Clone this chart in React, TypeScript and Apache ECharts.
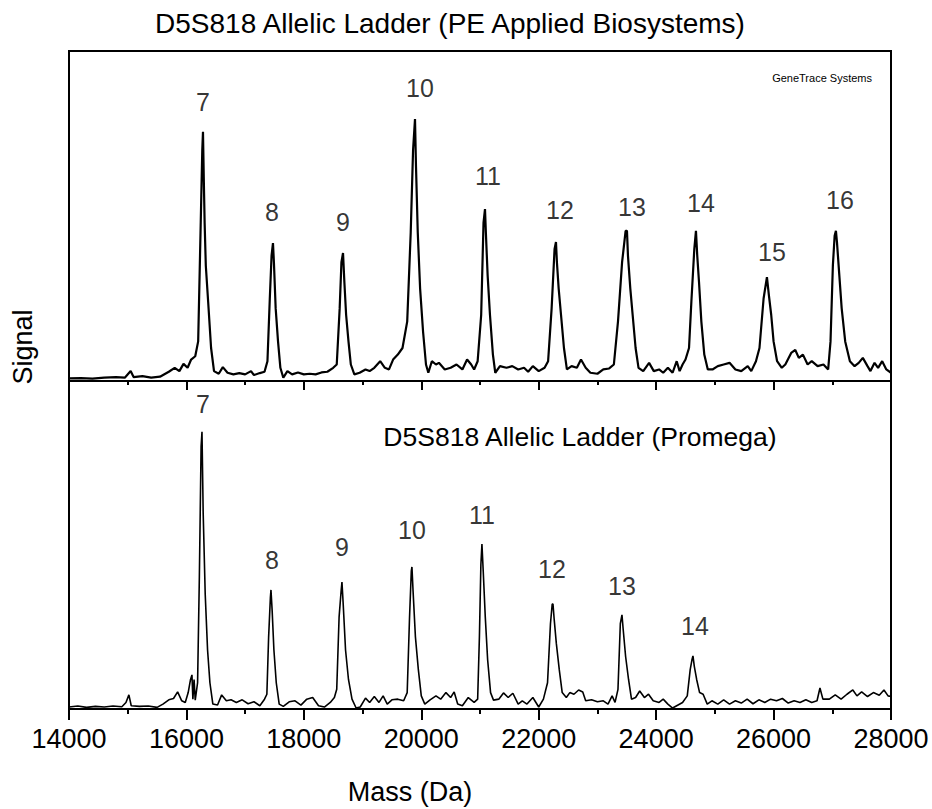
import React, { useEffect, useRef } from "react";
import * as echarts from "echarts";

// Upper trace: PE Applied Biosystems ladder [mass (Da), signal]
const traceTop: [number, number][] = [
  [14000, 0.8], [14200, 0.9], [14400, 0.7], [14600, 1.0], [14800, 1.2], [14950, 1.0], [15050, 3.0], [15100, 1.2],
  [15250, 1.5], [15400, 1.0], [15550, 1.3], [15700, 2.8], [15800, 4.0], [15880, 3.0], [15950, 5.2], [16020, 4.0],
  [16080, 6.5], [16150, 7.5], [16200, 12], [16240, 45], [16270, 70], [16282, 75.5], [16295, 62], [16310, 48],
  [16330, 35], [16370, 24], [16420, 10], [16470, 3.0], [16550, 2.2], [16620, 4.2], [16700, 2.5], [16800, 2.0],
  [16900, 2.4], [17000, 2.0], [17100, 3.0], [17150, 1.8], [17250, 2.4], [17330, 2.8], [17380, 6], [17420, 25],
  [17450, 38], [17474, 41.8], [17490, 36], [17520, 22], [17560, 12], [17600, 4], [17650, 1.0], [17720, 3.0],
  [17800, 2.0], [17900, 2.6], [18000, 2.0], [18100, 2.2], [18200, 2.0], [18300, 2.6], [18400, 2.8], [18500, 4.0],
  [18560, 5], [18610, 22], [18640, 36], [18667, 38.8], [18690, 30], [18720, 20], [18760, 12], [18800, 5],
  [18860, 2.0], [18950, 2.5], [19050, 3.5], [19120, 3.0], [19200, 4.0], [19300, 6.0], [19380, 4.0], [19450, 3.5],
  [19520, 6.5], [19600, 8.0], [19680, 10], [19760, 18], [19820, 45], [19860, 70], [19893, 79.4], [19910, 65],
  [19940, 45], [19980, 28], [20030, 15], [20080, 5], [20120, 2.5], [20180, 6], [20250, 5], [20300, 5.5],
  [20400, 3.5], [20500, 4], [20600, 5], [20700, 3.5], [20780, 6.5], [20850, 5], [20900, 3.5], [20960, 6],
  [21020, 20], [21060, 48], [21085, 52.1], [21100, 45], [21130, 32], [21170, 20], [21220, 8], [21260, 2.5],
  [21340, 4.5], [21450, 4.0], [21550, 4.5], [21650, 3.5], [21750, 4], [21820, 2.8], [21900, 4.5], [22000, 3],
  [22100, 4], [22160, 6], [22220, 22], [22270, 40], [22294, 42.1], [22310, 36], [22340, 28], [22380, 20],
  [22430, 10], [22480, 3.5], [22560, 4.5], [22650, 4.0], [22720, 6.5], [22800, 4], [22880, 2.5], [23000, 2.2],
  [23100, 3.5], [23200, 3.8], [23280, 5], [23350, 18], [23420, 36], [23480, 45.5], [23503, 45.5], [23520, 38],
  [23560, 28], [23600, 20], [23650, 10], [23700, 4], [23780, 3], [23880, 5.5], [23960, 3], [24050, 3.5],
  [24120, 2.5], [24200, 4.0], [24280, 2.5], [24350, 6], [24400, 3], [24450, 5], [24500, 6.5], [24560, 10],
  [24600, 24], [24650, 40], [24678, 45.5], [24700, 38], [24730, 30], [24770, 18], [24820, 8], [24880, 3.5],
  [24960, 3.5], [25050, 4.5], [25150, 5], [25250, 5.5], [25350, 3.5], [25450, 3], [25560, 4.5], [25620, 3],
  [25700, 6], [25760, 10], [25830, 25], [25887, 31.5], [25920, 26], [25960, 20], [26000, 12], [26060, 6],
  [26140, 4], [26200, 5], [26300, 8.5], [26370, 9.4], [26430, 7], [26500, 8], [26580, 5], [26650, 6],
  [26750, 4.5], [26850, 5], [26930, 3.5], [26970, 12], [27010, 35], [27040, 44], [27062, 45.5], [27080, 42],
  [27120, 32], [27160, 22], [27220, 12], [27300, 6], [27380, 4.5], [27450, 5.5], [27520, 7], [27600, 4.5],
  [27650, 3], [27720, 5.5], [27780, 4], [27850, 6.0], [27920, 3.5], [28000, 2.5],
];

// Lower trace: Promega ladder [mass (Da), signal]
const traceBottom: [number, number][] = [
  [14000, 0.6], [14150, 0.9], [14300, 0.5], [14450, 0.8], [14600, 0.6], [14750, 0.9], [14900, 0.7], [14970, 2.0],
  [15020, 4.3], [15060, 1.0], [15200, 0.8], [15350, 0.9], [15500, 0.5], [15600, 1.5], [15700, 2.8], [15780, 3.2],
  [15850, 5.2], [15920, 2.5], [15980, 2.0], [16030, 5], [16070, 9], [16094, 10.4], [16110, 3], [16130, 9],
  [16150, 2.7], [16190, 8], [16220, 40], [16250, 80], [16265, 84.5], [16285, 60], [16320, 35], [16360, 18],
  [16400, 8], [16450, 1.5], [16530, 1.2], [16600, 4.3], [16680, 2.5], [16760, 2.8], [16850, 2.0], [16950, 2.8],
  [17050, 1.6], [17150, 2.2], [17250, 1.0], [17330, 3.0], [17370, 4.5], [17400, 22], [17430, 34], [17440, 36.3],
  [17460, 30], [17490, 18], [17530, 8], [17580, 1.5], [17650, 0.8], [17750, 2.2], [17850, 2.5], [17950, 1.2],
  [18050, 3.0], [18150, 3.5], [18250, 1.0], [18350, 0.6], [18450, 2.0], [18520, 3.5], [18560, 6], [18600, 28],
  [18635, 36], [18649, 38.7], [18670, 32], [18710, 18], [18760, 9], [18820, 3], [18890, 0.3], [18960, 0.6],
  [19050, 3.3], [19120, 2.0], [19200, 3.8], [19280, 2.0], [19350, 4.0], [19420, 1.5], [19500, 2.8], [19600, 3.0],
  [19700, 2.5], [19760, 5], [19800, 28], [19830, 42], [19841, 43.3], [19860, 36], [19900, 22], [19950, 12],
  [20000, 4], [20060, 1.5], [20150, 2.8], [20250, 4.0], [20330, 3.0], [20420, 5.0], [20500, 3.5], [20560, 5.2],
  [20620, 1.5], [20700, 1.0], [20800, 3.5], [20900, 2.0], [20960, 3], [20990, 22], [21015, 44], [21033, 50.3],
  [21055, 42], [21090, 28], [21130, 15], [21180, 5], [21230, 2.7], [21320, 3.0], [21400, 4.9], [21480, 3.5],
  [21560, 4.8], [21650, 1.5], [21720, 2.5], [21800, 1.5], [21900, 3.5], [22000, 0.6], [22080, 3], [22150, 8],
  [22200, 26], [22230, 32], [22243, 32], [22265, 27], [22300, 20], [22350, 12], [22400, 5], [22470, 3.5],
  [22530, 5.0], [22600, 4.5], [22680, 5.8], [22750, 5.2], [22800, 2.5], [22900, 2.8], [23000, 2.2], [23100, 2.5],
  [23180, 1.5], [23250, 4.0], [23300, 2.0], [23350, 6], [23390, 26], [23418, 28.7], [23440, 24], [23480, 16],
  [23530, 9], [23580, 3], [23650, 3.5], [23720, 5.5], [23800, 3.5], [23870, 4.5], [23950, 2.5], [24050, 2.0],
  [24120, 3], [24200, 1.5], [24280, 0.3], [24350, 1.0], [24450, 2.0], [24530, 4], [24580, 12], [24610, 15],
  [24627, 16.2], [24650, 13], [24690, 9], [24740, 5], [24800, 4.5], [24870, 1.5], [24950, 2.5], [25050, 1.5],
  [25150, 2.8], [25250, 1.5], [25350, 2.5], [25450, 1.8], [25550, 3.0], [25650, 1.6], [25750, 2.8], [25850, 2.0],
  [25950, 3.0], [26050, 2.5], [26150, 3.2], [26250, 1.8], [26350, 2.5], [26450, 2.0], [26550, 2.8], [26650, 2.0],
  [26740, 2.5], [26790, 6.4], [26840, 3.0], [26950, 3.0], [27050, 4.3], [27150, 3.0], [27250, 4.5], [27350, 5.8],
  [27420, 4.0], [27500, 5.2], [27600, 3.8], [27700, 5.0], [27800, 4.2], [27880, 5.8], [27950, 4.0], [28000, 3.8],
];

// Allele labels
const allelesTop = ["7", "8", "9", "10", "11", "12", "13", "14", "15", "16"];
const labelMassTop = [16282, 17457, 18667, 19978, 21136, 22362, 23588, 24763, 25972, 27130];
const labelSignalTop = [84.5, 51.2, 48.2, 88.8, 62.1, 51.8, 52.7, 53.9, 39.1, 54.8];

const allelesBottom = ["7", "8", "9", "10", "11", "12", "13", "14"];
const labelMassBottom = [16282, 17457, 18650, 19841, 21033, 22226, 23418, 24661];
const labelSignalBottom = [93.0, 45.4, 49.4, 54.6, 59.1, 42.7, 37.5, 25.3];

// Axis
const massMin = 14000;
const massMax = 28000;
const massStep = 2000;
const massMinorStep = 1000;

const FONT = "'Liberation Sans', Arial, Helvetica, sans-serif";

export default function App() {
  const ref = useRef<HTMLDivElement>(null);

  useEffect(() => {
    document.body.style.margin = "0";
    if (!ref.current) return;
    const chart = echarts.init(ref.current, undefined, { renderer: "svg" });

    const L = 69;
    const W = 822;

    const mainXAxis = (idx: number, showLabel: boolean) => ({
      type: "value",
      gridIndex: idx,
      min: massMin,
      max: massMax,
      interval: massStep,
      axisLine: { show: true, lineStyle: { color: "#000", width: 2 } },
      axisTick: { show: false },
      splitLine: { show: false },
      axisLabel: {
        show: showLabel,
        fontSize: 27,
        fontFamily: FONT,
        color: "#000",
        margin: 16,
        formatter: (v: number) => String(v),
      },
    });

    // Thin strip grids whose split lines act as tick marks, placed by the mass scale
    const tickXAxis = (idx: number, step: number) => ({
      type: "value",
      gridIndex: idx,
      min: massMin,
      max: massMax,
      interval: step,
      axisLine: { show: false },
      axisTick: { show: false },
      axisLabel: { show: false },
      splitLine: { show: true, lineStyle: { color: "#000", width: 2, type: "solid" } },
    });
    const hiddenY = (idx: number) => ({ type: "value", gridIndex: idx, min: 0, max: 1, show: false });

    const labelSeries = (names: string[], xs: number[], ys: number[], idx: number) => ({
      type: "scatter",
      xAxisIndex: idx,
      yAxisIndex: idx,
      symbolSize: 1,
      itemStyle: { color: "rgba(0,0,0,0)" },
      silent: true,
      data: names.map((n, i) => [xs[i], ys[i], n]),
      label: {
        show: true,
        position: "inside",
        formatter: (p: any) => p.value[2],
        fontSize: 25,
        fontFamily: FONT,
        color: "#000",
      },
      z: 5,
    });

    chart.setOption({
      animation: false,
      backgroundColor: "#fff",
      grid: [
        { left: L, top: 51, width: W, height: 330, show: true, borderColor: "#000", borderWidth: 2 },
        { left: L, top: 381, width: W, height: 328, show: true, borderColor: "#000", borderWidth: 2 },
        // tick strips: upper panel (pointing down from y=381), lower panel (from y=709)
        { left: L, top: 381, width: W, height: 9, show: false },
        { left: L, top: 381, width: W, height: 4, show: false },
        { left: L, top: 709, width: W, height: 11, show: false },
        { left: L, top: 709, width: W, height: 5, show: false },
      ],
      xAxis: [
        mainXAxis(0, false),
        mainXAxis(1, true),
        tickXAxis(2, massStep),
        tickXAxis(3, massMinorStep),
        tickXAxis(4, massStep),
        tickXAxis(5, massMinorStep),
      ],
      yAxis: [
        { type: "value", gridIndex: 0, min: 0, max: 100, show: false },
        { type: "value", gridIndex: 1, min: 0, max: 100, show: false },
        hiddenY(2),
        hiddenY(3),
        hiddenY(4),
        hiddenY(5),
      ],
      series: [
        {
          type: "line",
          xAxisIndex: 0,
          yAxisIndex: 0,
          data: traceTop,
          showSymbol: false,
          symbol: "none",
          lineStyle: { color: "#000", width: 2.2 },
          silent: true,
        },
        {
          type: "line",
          xAxisIndex: 1,
          yAxisIndex: 1,
          data: traceBottom,
          showSymbol: false,
          symbol: "none",
          lineStyle: { color: "#000", width: 1.6 },
          silent: true,
        },
        labelSeries(allelesTop, labelMassTop, labelSignalTop, 0),
        labelSeries(allelesBottom, labelMassBottom, labelSignalBottom, 1),
      ],
      graphic: [
        {
          type: "text",
          x: 450,
          y: 23,
          style: {
            text: "D5S818 Allelic Ladder (PE Applied Biosystems)",
            fontSize: 28,
            fontFamily: FONT,
            fill: "#000",
            align: "center",
            verticalAlign: "middle",
          },
        },
        {
          type: "text",
          x: 872,
          y: 78,
          style: {
            text: "GeneTrace Systems",
            fontSize: 11,
            fontFamily: FONT,
            fill: "#000",
            align: "right",
            verticalAlign: "middle",
          },
        },
        {
          type: "text",
          x: 580,
          y: 437,
          style: {
            text: "D5S818 Allelic Ladder (Promega)",
            fontSize: 26.5,
            fontFamily: FONT,
            fill: "#000",
            align: "center",
            verticalAlign: "middle",
          },
        },
        {
          type: "text",
          x: 410,
          y: 792,
          style: {
            text: "Mass (Da)",
            fontSize: 27,
            fontFamily: FONT,
            fill: "#000",
            align: "center",
            verticalAlign: "middle",
          },
        },
        {
          type: "text",
          x: 23,
          y: 347,
          rotation: Math.PI / 2,
          style: {
            text: "Signal",
            fontSize: 27,
            fontFamily: FONT,
            fill: "#000",
            align: "center",
            verticalAlign: "middle",
          },
        },
      ],
    });

    return () => chart.dispose();
  }, []);

  return (
    <div
      ref={ref}
      style={{ position: "absolute", left: 0, top: 0, width: 932, height: 809, background: "#fff" }}
    />
  );
}
